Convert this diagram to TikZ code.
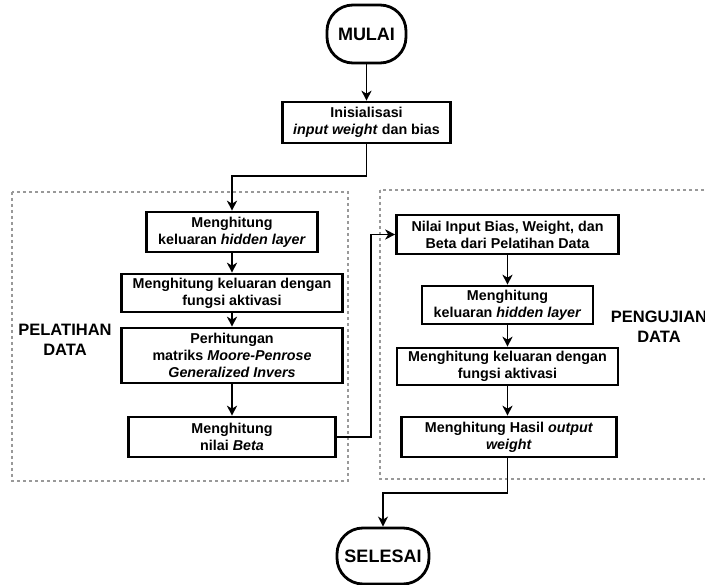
\documentclass[tikz,border=0pt]{standalone}
\usepackage{fontspec}
\setmainfont{Liberation Sans}
\usetikzlibrary{arrows.meta,calc}

\tikzset{
  every node/.style={font=\fontsize{14.3}{17}\selectfont\bfseries},
  procbox/.style={draw, line width=2.6pt, align=center, inner sep=2pt},
  termbox/.style={draw, line width=2.8pt, rounded corners=26pt, inner sep=0pt,
                  font=\fontsize{18}{20}\selectfont\bfseries},
  grouplabel/.style={align=center, font=\fontsize{16.5}{20}\selectfont\bfseries},
  groupframe/.style={draw=gray!80, line width=1.4pt, dash pattern=on 3pt off 3pt},
  flow/.style={line width=1.8pt, -{Stealth[length=10pt,width=10pt,inset=3pt]}},
}

\begin{document}
\begin{tikzpicture}[x=1pt, y=-1pt]
  \path[use as bounding box, clip] (0,0) rectangle (705,585);

  % dashed group frames
  \draw[groupframe] (12,192) rectangle (348,481);
  \draw[groupframe] (380,190) rectangle (715,479);

  % group labels
  \node[grouplabel] (lblTrain) at (65,340) {PELATIHAN\\DATA};
  \node[grouplabel] (lblTest) at (659,327) {PENGUJIAN\\DATA};

  % terminators
  \node[termbox, minimum width=79pt, minimum height=58pt] (start) at (366.5,34) {MULAI};
  \node[termbox, minimum width=92pt, minimum height=56pt] (stop) at (383,556) {SELESAI};

  % initialisation
  \node[procbox, minimum width=168pt, minimum height=41pt] (init) at (366.5,122.5)
    {Inisialisasi\\\textit{input weight} dan bias};

  % training column
  \node[procbox, minimum width=171pt, minimum height=40pt] (t1) at (232,232)
    {Menghitung\\keluaran \textit{hidden layer}};
  \node[procbox, minimum width=221pt, minimum height=38pt] (t2) at (232,293)
    {Menghitung keluaran dengan\\fungsi aktivasi};
  \node[procbox, minimum width=221pt, minimum height=55pt] (t3) at (232,355.5)
    {Perhitungan\\matriks \textit{Moore-Penrose}\\\textit{Generalized Invers}};
  \node[procbox, minimum width=207pt, minimum height=40pt] (t4) at (232,437)
    {Menghitung\\nilai \textit{Beta}};

  % testing column
  \node[procbox, minimum width=222pt, minimum height=39pt] (u1) at (507.5,234.5)
    {Nilai Input Bias, Weight, dan\\Beta dari Pelatihan Data};
  \node[procbox, minimum width=171pt, minimum height=38pt] (u2) at (507.5,305)
    {Menghitung\\keluaran \textit{hidden layer}};
  \node[procbox, minimum width=221pt, minimum height=37pt] (u3) at (507.5,366.5)
    {Menghitung keluaran dengan\\fungsi aktivasi};
  \node[procbox, minimum width=215pt, minimum height=40pt] (u4) at (509,437)
    {Menghitung Hasil \textit{output}\\\textit{weight}};

  % connectors
  \draw[flow] (start.south) -- (init.north);
  \draw[flow] (init.south) -- ++(0,32) -| (t1.north);
  \draw[flow] (t1.south) -- (t2.north);
  \draw[flow] (t2.south) -- (t3.north);
  \draw[flow] (t3.south) -- (t4.north);
  \draw[flow] (t4.east) -- ++(34,0) |- (u1.west);
  \draw[flow] (u1.south) -- (u2.north);
  \draw[flow] (u2.south) -- (u3.north);
  \draw[flow] (u3.south) -- (u3.south |- u4.north);
  \draw[flow] (u4.south -| u3.south) -- ++(0,35) -| (stop.north);
\end{tikzpicture}
\end{document}
